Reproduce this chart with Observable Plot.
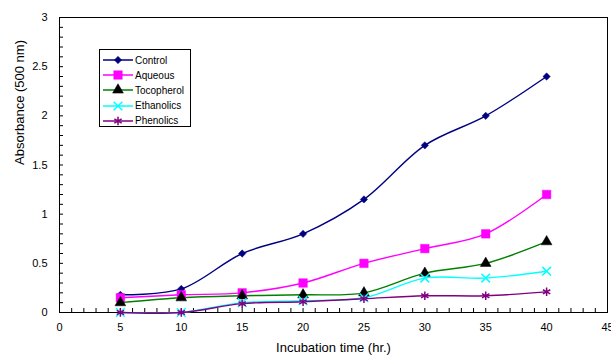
<!DOCTYPE html>
<html>
<head>
<meta charset="utf-8">
<script src="https://cdn.jsdelivr.net/npm/d3@7"></script>
<script src="https://cdn.jsdelivr.net/npm/@observablehq/plot@0.6"></script>
<style>
  html, body { margin: 0; padding: 0; background: #fff; }
  #wrap { position: relative; width: 611px; height: 356px; font-family: "Liberation Sans", Arial, sans-serif; }
  #legend { position: absolute; left: 99px; top: 49px; width: 92px; height: 78px; border: 1px solid #000; background: #fff; box-sizing: border-box; font-size: 10px; }
  #legend .row { position: absolute; left: 2px; height: 14px; display: flex; align-items: center; }
  #legend .row span { margin-left: 1px; color: #000; }
</style>
</head>
<body>
<div id="wrap"><div id="legend"></div></div>
<script>
const times = [5, 10, 15, 20, 25, 30, 35, 40];
const control    = [0.18, 0.24, 0.60, 0.80, 1.15, 1.70, 2.00, 2.40];
const aqueous    = [0.15, 0.18, 0.20, 0.30, 0.50, 0.65, 0.80, 1.20];
const tocopherol = [0.10, 0.15, 0.17, 0.18, 0.20, 0.40, 0.50, 0.72];
const ethanolics = [0.00, 0.00, 0.10, 0.12, 0.15, 0.35, 0.35, 0.42];
const phenolics  = [0.00, 0.00, 0.09, 0.11, 0.14, 0.17, 0.17, 0.21];
const xTickLabels = [0, 5, 10, 15, 20, 25, 30, 35, 40, 45];
const yTickLabels = [0, 0.5, 1, 1.5, 2, 2.5, 3];

const seriesDefs = [
  {name: "Control",    values: control,    line: "#000080", mark: "#000080", symbol: "diamond2", r: 3.3, filled: true},
  {name: "Aqueous",    values: aqueous,    line: "#FF00FF", mark: "#FF00FF", symbol: "square",   r: 4.8, filled: true},
  {name: "Tocopherol", values: tocopherol, line: "#008000", mark: "#000000", symbol: "triangle", r: 4.0, filled: true},
  {name: "Ethanolics", values: ethanolics, line: "#00FFFF", mark: "#00FFFF", symbol: "times",    r: 4.0, filled: false},
  {name: "Phenolics",  values: phenolics,  line: "#800080", mark: "#800080", symbol: "asterisk", r: 4.0, filled: false}
];

const marks = [
  Plot.frame({stroke: "#000", strokeWidth: 1}),
  Plot.axisX({ticks: d3.range(0, 46, 1), tickSize: -4, tickFormat: null, text: null, label: null, stroke: "#000"}),
  Plot.axisX({ticks: xTickLabels, tickSize: 0, tickPadding: 11, tickFormat: d => String(d), label: null, fontSize: 11, fill: "#000"}),
  Plot.axisY({ticks: d3.range(0, 31, 1).map(d => d / 10), tickSize: -4, text: null, label: null, stroke: "#000"}),
  Plot.axisY({ticks: yTickLabels, tickSize: 0, tickPadding: 12, tickFormat: d => String(d), label: null, fontSize: 11, fill: "#000"}),
  Plot.text(["Incubation time (hr.)"], {frameAnchor: "bottom", dy: 39, fontSize: 13, fill: "#000"}),
  Plot.text(["Absorbance (500 nm)"], {frameAnchor: "left", rotate: -90, dx: -40, fontSize: 13, fill: "#000"})
];

for (const s of seriesDefs) {
  const data = times.map((t, i) => ({t, v: s.values[i]}));
  marks.push(Plot.line(data, {x: "t", y: "v", stroke: s.line, strokeWidth: 1.4, curve: "catmull-rom"}));
}
for (const s of seriesDefs) {
  const data = times.map((t, i) => ({t, v: s.values[i]}));
  marks.push(Plot.dot(data, {
    x: "t", y: "v", symbol: () => s.symbol, r: s.r,
    fill: s.filled ? s.mark : "none",
    stroke: s.mark, strokeWidth: s.filled ? 0.5 : 1.5
  }));
}

const chart = Plot.plot({
  width: 611, height: 356,
  marginLeft: 59, marginRight: 4, marginTop: 17, marginBottom: 44,
  x: {domain: [0, 45]},
  y: {domain: [0, 3]},
  style: {fontFamily: "'Liberation Sans', Arial, sans-serif", fontSize: "11px", background: "#fff", overflow: "visible"},
  marks
});
const wrap = document.getElementById("wrap");
wrap.insertBefore(chart, wrap.firstChild);

// Legend
const legend = d3.select("#legend");
const symMap = {diamond2: d3.symbolDiamond2, square: d3.symbolSquare, triangle: d3.symbolTriangle, times: d3.symbolTimes, asterisk: d3.symbolAsterisk};
seriesDefs.forEach((s, i) => {
  const row = legend.append("div").attr("class", "row").style("top", (3 + i * 15.2) + "px");
  const svg = row.append("svg").attr("width", 32).attr("height", 14);
  svg.append("line").attr("x1", 1).attr("x2", 31).attr("y1", 7).attr("y2", 7)
    .attr("stroke", s.line).attr("stroke-width", 1.5);
  svg.append("path").attr("transform", "translate(16,7)")
    .attr("d", d3.symbol(symMap[s.symbol], Math.PI * s.r * s.r)())
    .attr("fill", s.filled ? s.mark : "none")
    .attr("stroke", s.mark).attr("stroke-width", s.filled ? 0.5 : 1.5);
  row.append("span").text(s.name);
});
</script>
</body>
</html>
